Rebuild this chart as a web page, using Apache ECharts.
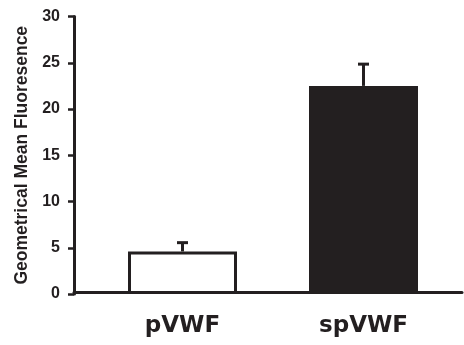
<!DOCTYPE html>
<html>
<head>
<meta charset="utf-8">
<script src="https://cdn.jsdelivr.net/npm/echarts@6/dist/echarts.min.js"></script>
<style>html,body{margin:0;padding:0;background:#fff}#c{width:464px;height:345px}</style>
</head>
<body>
<div id="c"></div>
<script>
const categories = ['pVWF', 'spVWF'];
const means = [4.6, 22.5];
const errors = [0.95, 2.35];
const barColors = ['#ffffff', '#231f20'];
const yTicks = [0, 5, 10, 15, 20, 25, 30];
const yName = 'Geometrical Mean Fluoresence';

const INK = '#231f20';
const chart = echarts.init(document.getElementById('c'), null, {renderer: 'canvas'});
chart.setOption({
  animation: false,
  grid: [
    {left: 92, right: 10, top: 16.5, bottom: 51},
    {left: 74, right: 2, top: 16.5, bottom: 52.5}
  ],
  xAxis: [
    {type: 'category', gridIndex: 0, data: categories,
     axisLine: {show: false}, axisTick: {show: false},
     axisLabel: {color: INK, fontFamily: 'DejaVu Sans', fontWeight: 'bold', fontSize: 23, margin: 21}},
    {type: 'value', gridIndex: 1, min: 0, max: 1, z: 10,
     axisLine: {show: true, lineStyle: {color: INK, width: 3}},
     axisTick: {show: false}, axisLabel: {show: false}, splitLine: {show: false}}
  ],
  yAxis: [
    {type: 'value', gridIndex: 0, min: yTicks[0], max: yTicks[yTicks.length - 1], interval: 5,
     offset: 18, z: 10,
     name: yName, nameLocation: 'middle', nameGap: 35,
     nameTextStyle: {color: INK, fontFamily: 'Liberation Sans', fontWeight: 'bold', fontSize: 17.5},
     axisLine: {show: true, lineStyle: {color: INK, width: 3}},
     axisTick: {show: true, length: 6, lineStyle: {color: INK, width: 2.5}},
     axisLabel: {color: INK, fontFamily: 'Liberation Sans', fontWeight: 'bold', fontSize: 16, margin: 14},
     splitLine: {show: false}},
    {type: 'value', gridIndex: 1, min: 0, max: 30, show: false}
  ],
  series: [
    {type: 'bar', xAxisIndex: 0, yAxisIndex: 0, barWidth: 109,
     data: means.map((v, i) => ({value: v, itemStyle: {color: barColors[i], borderColor: INK, borderWidth: 3}})),
     z: 2},
    {type: 'custom', xAxisIndex: 0, yAxisIndex: 0, z: 3,
     data: means.map((v, i) => [i, v, v + errors[i]]),
     renderItem: function (params, api) {
       const base = api.coord([api.value(0), api.value(1)]);
       const top = api.coord([api.value(0), api.value(2)]);
       const half = 5.5;
       const style = {stroke: INK, lineWidth: 3};
       return {type: 'group', children: [
         {type: 'line', shape: {x1: base[0], y1: base[1], x2: top[0], y2: top[1]}, style: style},
         {type: 'line', shape: {x1: top[0] - half, y1: top[1], x2: top[0] + half, y2: top[1]}, style: style}
       ]};
     }}
  ]
});
</script>
</body>
</html>
